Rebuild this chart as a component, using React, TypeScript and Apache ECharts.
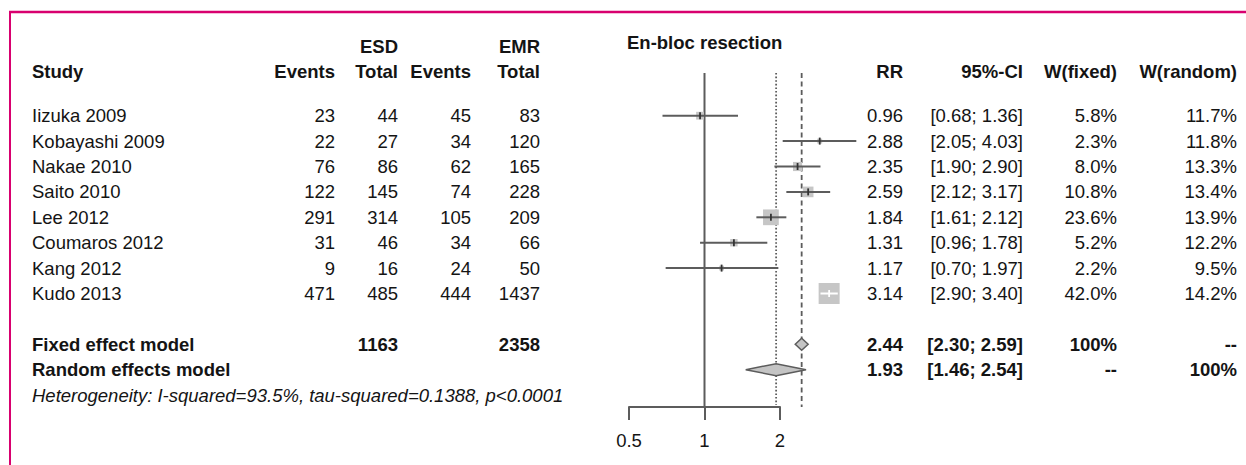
import React, { useEffect, useRef } from "react";
import * as echarts from "echarts";

const studies = ["Iizuka 2009", "Kobayashi 2009", "Nakae 2010", "Saito 2010", "Lee 2012", "Coumaros 2012", "Kang 2012", "Kudo 2013"];
const esdEvents = [23, 22, 76, 122, 291, 31, 9, 471];
const esdTotal = [44, 27, 86, 145, 314, 46, 16, 485];
const emrEvents = [45, 34, 62, 74, 105, 34, 24, 444];
const emrTotal = [83, 120, 165, 228, 209, 66, 50, 1437];
const rr = [0.96, 2.88, 2.35, 2.59, 1.84, 1.31, 1.17, 3.14];
const ciLow = [0.68, 2.05, 1.9, 2.12, 1.61, 0.96, 0.7, 2.9];
const ciHigh = [1.36, 4.03, 2.9, 3.17, 2.12, 1.78, 1.97, 3.4];
const wFixed = [5.8, 2.3, 8.0, 10.8, 23.6, 5.2, 2.2, 42.0];
const wRandom = [11.7, 11.8, 13.3, 13.4, 13.9, 12.2, 9.5, 14.2];

const fixedModel = { label: "Fixed effect model", esdTotal: "1163", emrTotal: "2358", rr: 2.44, lo: 2.3, hi: 2.59, wf: "100%", wr: "--" };
const randomModel = { label: "Random effects model", rr: 1.93, lo: 1.46, hi: 2.54, wf: "--", wr: "100%" };
const heterogeneity = "Heterogeneity: I-squared=93.5%, tau-squared=0.1388, p<0.0001";
const axisTicks = [0.5, 1, 2];

const FONT = "'Liberation Sans', Arial, Helvetica, sans-serif";
const FS = 18.5;
const TEXT = "#141414";
const LINE = "#5c5c5c";
const ROW0 = 115.7;
const ROWH = 25.4;
const Y_TOP = -1.681;
const Y_BOT = 11.468;
const rowY = (r: number) => ROW0 + ROWH * r;

function txt(text: string, x: number, y: number, align: string, style = "") {
  return {
    type: "text",
    x,
    y,
    silent: true,
    style: {
      text,
      fill: TEXT,
      font: `${style} ${FS}px ${FONT}`.trim(),
      textAlign: align,
      textVerticalAlign: "middle",
    },
  };
}

const f2 = (v: number) => v.toFixed(2);
const ci = (lo: number, hi: number) => `[${f2(lo)}; ${f2(hi)}]`;

export default function App() {
  const ref = useRef<HTMLDivElement>(null);
  useEffect(() => {
    const chart = echarts.init(ref.current!, null, { renderer: "svg" });

    const COL = { study: 32, e1: 335, n1: 398, e2: 471, n2: 540, rr: 903, ci: 1023, wf: 1117, wr: 1237 };
    const texts: any[] = [];
    const hy = 71;
    texts.push(txt("ESD", COL.n1, 46, "right", "bold"));
    texts.push(txt("EMR", COL.n2, 46, "right", "bold"));
    texts.push(txt("En-bloc resection", 627, 42, "left", "bold"));
    texts.push(txt("Study", COL.study, hy, "left", "bold"));
    texts.push(txt("Events", COL.e1, hy, "right", "bold"));
    texts.push(txt("Total", COL.n1, hy, "right", "bold"));
    texts.push(txt("Events", COL.e2, hy, "right", "bold"));
    texts.push(txt("Total", COL.n2, hy, "right", "bold"));
    texts.push(txt("RR", COL.rr, hy, "right", "bold"));
    texts.push(txt("95%-CI", COL.ci, hy, "right", "bold"));
    texts.push(txt("W(fixed)", COL.wf, hy, "right", "bold"));
    texts.push(txt("W(random)", COL.wr, hy, "right", "bold"));

    studies.forEach((s, i) => {
      const y = rowY(i);
      texts.push(txt(s, COL.study, y, "left"));
      texts.push(txt(String(esdEvents[i]), COL.e1, y, "right"));
      texts.push(txt(String(esdTotal[i]), COL.n1, y, "right"));
      texts.push(txt(String(emrEvents[i]), COL.e2, y, "right"));
      texts.push(txt(String(emrTotal[i]), COL.n2, y, "right"));
      texts.push(txt(f2(rr[i]), COL.rr, y, "right"));
      texts.push(txt(ci(ciLow[i], ciHigh[i]), COL.ci, y, "right"));
      texts.push(txt(`${wFixed[i].toFixed(1)}%`, COL.wf, y, "right"));
      texts.push(txt(`${wRandom[i].toFixed(1)}%`, COL.wr, y, "right"));
    });

    const yF = rowY(9);
    texts.push(txt(fixedModel.label, COL.study, yF, "left", "bold"));
    texts.push(txt(fixedModel.esdTotal, COL.n1, yF, "right", "bold"));
    texts.push(txt(fixedModel.emrTotal, COL.n2, yF, "right", "bold"));
    texts.push(txt(f2(fixedModel.rr), COL.rr, yF, "right", "bold"));
    texts.push(txt(ci(fixedModel.lo, fixedModel.hi), COL.ci, yF, "right", "bold"));
    texts.push(txt(fixedModel.wf, COL.wf, yF, "right", "bold"));
    texts.push(txt(fixedModel.wr, COL.wr, yF, "right", "bold"));

    const yR = rowY(10);
    texts.push(txt(randomModel.label, COL.study, yR, "left", "bold"));
    texts.push(txt(f2(randomModel.rr), COL.rr, yR, "right", "bold"));
    texts.push(txt(ci(randomModel.lo, randomModel.hi), COL.ci, yR, "right", "bold"));
    texts.push(txt(randomModel.wf, COL.wf, yR, "right", "bold"));
    texts.push(txt(randomModel.wr, COL.wr, yR, "right", "bold"));

    texts.push(txt(heterogeneity, COL.study, rowY(11), "left", "italic"));

    const frame = [
      { type: "line", silent: true, shape: { x1: 9, y1: 12, x2: 1246, y2: 12 }, style: { stroke: "#d8006f", lineWidth: 2.5 } },
      { type: "line", silent: true, shape: { x1: 10, y1: 11, x2: 10, y2: 465 }, style: { stroke: "#d8006f", lineWidth: 2 } },
    ];

    const maxW = Math.max(...wFixed);
    const studyData = studies.map((_, i) => [rr[i], i, ciLow[i], ciHigh[i], wFixed[i]]);
    const refData = [
      [1, 0],
      [randomModel.rr, 1],
      [fixedModel.rr, 2],
    ];
    const diamondData = [
      [fixedModel.rr, 9, fixedModel.lo, fixedModel.hi],
      [randomModel.rr, 10, randomModel.lo, randomModel.hi],
    ];

    const option: any = {
      animation: false,
      grid: { left: 629, top: 73, width: 151, height: 334 },
      xAxis: {
        type: "log",
        logBase: 2,
        min: 0.5,
        max: 2,
        position: "bottom",
        splitLine: { show: false },
        axisLine: { show: true, onZero: false, lineStyle: { color: LINE, width: 2 } },
        axisTick: { show: true, length: 13, inside: false, lineStyle: { color: LINE, width: 2 } },
        axisLabel: {
          color: TEXT,
          fontSize: FS,
          fontFamily: FONT,
          margin: 24,
          formatter: (v: number) => {
            const t = axisTicks.find((a) => Math.abs(a - v) < 1e-6);
            return t === undefined ? "" : String(t);
          },
        },
      },
      yAxis: { type: "value", inverse: true, min: Y_TOP, max: Y_BOT, show: false },
      series: [
        {
          type: "custom",
          z: 1,
          clip: false,
          silent: true,
          data: refData,
          encode: { x: 0, y: 1 },
          renderItem: (params: any, api: any) => {
            const v = api.value(0);
            const kind = api.value(1);
            const x = api.coord([v, 0])[0];
            const y1 = api.coord([v, Y_TOP])[1];
            const y2 = api.coord([v, Y_BOT])[1] - (kind === 1 ? 2 : 0);
            return {
              type: "line",
              shape: { x1: x, y1, x2: x, y2 },
              style: {
                stroke: LINE,
                lineWidth: kind === 0 ? 2 : 1.8,
                lineDash: kind === 0 ? null : kind === 1 ? [1.6, 2] : [5, 3.5],
              },
            };
          },
        },
        {
          type: "custom",
          z: 2,
          clip: false,
          silent: true,
          data: studyData,
          encode: { x: 0, y: 1 },
          renderItem: (params: any, api: any) => {
            const est = api.value(0);
            const row = api.value(1);
            const lo = api.value(2);
            const hi = api.value(3);
            const w = api.value(4);
            const [cx, cy] = api.coord([est, row]);
            const xl = api.coord([lo, row])[0];
            const xh = api.coord([hi, row])[0];
            const size = 21 * Math.sqrt(w / maxW);
            const inside = xl >= cx - size / 2 && xh <= cx + size / 2;
            const lc = inside ? "#ffffff" : LINE;
            return {
              type: "group",
              children: [
                { type: "rect", shape: { x: cx - size / 2, y: cy - size / 2, width: size, height: size }, style: { fill: "#c6c6c6" } },
                { type: "line", shape: { x1: xl, y1: cy, x2: xh, y2: cy }, style: { stroke: lc, lineWidth: 2 } },
                { type: "line", shape: { x1: cx, y1: cy - 3.5, x2: cx, y2: cy + 3.5 }, style: { stroke: inside ? "#ffffff" : "#333333", lineWidth: 1.8 } },
              ],
            };
          },
        },
        {
          type: "custom",
          z: 3,
          clip: false,
          silent: true,
          data: diamondData,
          encode: { x: 0, y: 1 },
          renderItem: (params: any, api: any) => {
            const est = api.value(0);
            const row = api.value(1);
            const [cx, cy] = api.coord([est, row]);
            const xl = api.coord([api.value(2), row])[0];
            const xh = api.coord([api.value(3), row])[0];
            const h = 6;
            return {
              type: "polygon",
              shape: { points: [[xl, cy], [cx, cy - h], [xh, cy], [cx, cy + h]] },
              style: { fill: "#c4c4c4", stroke: LINE, lineWidth: 1.5 },
            };
          },
        },
      ],
      graphic: [...frame, ...texts],
    };
    chart.setOption(option);
    return () => chart.dispose();
  }, []);
  return <div ref={ref} style={{ position: "fixed", left: 0, top: 0, width: 1246, height: 465, background: "#ffffff" }} />;
}
